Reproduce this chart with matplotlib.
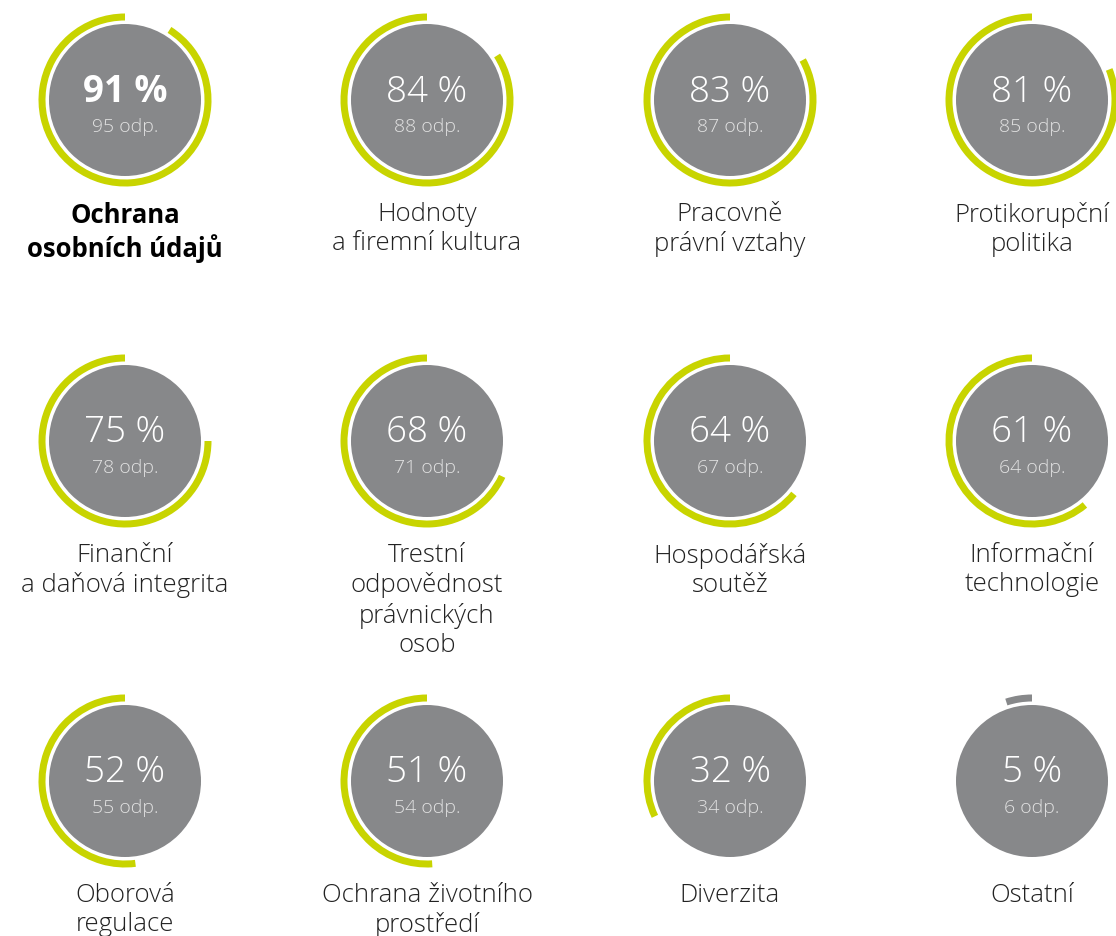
import matplotlib.pyplot as plt
from matplotlib.patches import Circle, Wedge

topics = [
    "Ochrana\nosobních údajů",
    "Hodnoty\na firemní kultura",
    "Pracovně\nprávní vztahy",
    "Protikorupční\npolitika",
    "Finanční\na daňová integrita",
    "Trestní\nodpovědnost\nprávnických\nosob",
    "Hospodářská\nsoutěž",
    "Informační\ntechnologie",
    "Oborová\nregulace",
    "Ochrana životního\nprostředí",
    "Diverzita",
    "Ostatní",
]
percent = [91, 84, 83, 81, 75, 68, 64, 61, 52, 51, 32, 5]
answers = [95, 88, 87, 85, 78, 71, 67, 64, 55, 54, 34, 6]

lime = "#c8d400"
grey = "#87888a"
font = ["Open Sans", "DejaVu Sans"]

col_x = [125, 427, 730, 1032]
row_y = [100, 441, 781]

fig = plt.figure(figsize=(11.16, 9.36), dpi=100)
ax = fig.add_axes([0, 0, 1, 1])
ax.set_xlim(0, 1116)
ax.set_ylim(936, 0)
ax.set_aspect("equal")
ax.axis("off")

for i, (name, p, n) in enumerate(zip(topics, percent, answers)):
    cx = col_x[i % 4]
    cy = row_y[i // 4]
    ring_col = grey if name == "Ostatní" else lime
    # arc drawn counter-clockwise from 12 o'clock (y axis is flipped)
    ax.add_patch(Wedge((cx, cy), 86.5, 270 - 3.6 * p, 270, width=7,
                       facecolor=ring_col, edgecolor="none"))
    ax.add_patch(Circle((cx, cy), 76, facecolor=grey, edgecolor="none"))

    first = i == 0
    ax.text(cx, cy - 8, f"{p} %", ha="center", va="center", color="white",
            fontsize=26.5, family=font, fontweight="bold" if first else "light")
    ax.text(cx, cy + 27, f"{n} odp.", ha="center", va="center",
            color="#e2e2e2", fontsize=14, family=font, fontweight="light")
    ax.text(cx, cy + 102, name, ha="center", va="top", color="black" if first else "#222222",
            fontsize=18.5, family=font, fontweight="bold" if first else "light",
            linespacing=1.22)

fig.savefig("out.png", dpi=100)
